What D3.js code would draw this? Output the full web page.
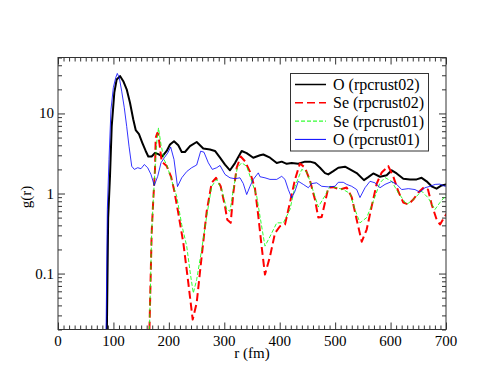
<!DOCTYPE html>
<html><head><meta charset="utf-8">
<script src="https://cdn.jsdelivr.net/npm/d3@7"></script>
</head><body><svg id="c" width="494" height="380" overflow="visible"></svg>
<script>
// ---- data ----
const seriesNames = ["O (rpcrust02)", "Se (rpcrust02)", "Se (rpcrust01)", "O (rpcrust01)"];
const xTicks = [0,100,200,300,400,500,600,700];
const yTicks = [0.1, 1, 10];
const yTickLabels = ["0.1", "1", "10"];

const O02_r = [88,90.5,93.8,96.9,101.6,105.9,111.9,117.8,123.9,129.9,135.8,140.2,146.1,152.1,158.2,162.9,169,175,181,188.2,196.1,202.1,209.3,217,223.2,229.1,238.1,250.2,262.1,274.2,283.2,292.3,301.3,310.3,319.3,331.4,340.4,352.3,364.4,370.4,382.5,394.6,403.6,412.6,421.6,433.5,445.6,454.6,463.6,472.7,481.7,487.6,496.7,505.7,517.8,526.8,538.9,552,559.8,568.8,580.9,593,602,611,623,635,647,656,665,674,683,692,701];
const O02_g = [0.015,0.5,1.65,6.9,18.2,26.6,29.3,25.3,20,13.6,8.4,6.2,5.5,4.3,3.4,2.9,2.9,3.2,3.1,2.9,3.4,4.1,4.5,4.0,3.3,3.3,3.9,4.4,3.65,3.55,3.4,2.8,2.3,1.95,2.4,3.4,3.2,2.8,3.0,3.07,2.8,2.4,2.5,2.35,2.4,2.35,2.5,2.5,2.4,2.1,1.8,1.73,1.9,2.1,2.16,2.0,1.8,1.47,1.6,1.78,1.62,1.69,1.95,1.78,1.53,1.5,1.5,1.57,1.42,1.23,1.15,1.26,1.3];

const Se02_r = [164,169,171.9,175,176.3,179.1,181,187.1,196.1,203.9,209.3,217,226.1,235.1,243,250.2,259.2,268.3,277.3,285,293.5,301.3,305.4,311.6,316.3,322.4,329.6,337.4,346.4,355.4,361.4,368,373.4,382.5,391.5,400.5,409.5,418.5,427.6,436.5,445.6,454.6,463.6,469.6,475.7,481.7,487.6,496.7,508.7,520.8,529.9,538.9,548,556.9,565.9,575,584,595.9,604.9,614,623,632,641,650,660.3,667.5,674.2,683.2,689.2,698.2,701];
const Se02_g = [0.01,0.325,0.84,2.0,4.97,5.7,5.5,2.5,2.2,1.63,1.12,0.57,0.242,0.0765,0.0266,0.043,0.164,0.6,1.36,1.57,1.23,0.69,0.47,0.43,1.02,2.1,2.9,2.53,1.86,1.15,0.52,0.2,0.097,0.164,0.32,0.39,0.41,0.77,1.5,2.37,2.1,1.45,0.84,0.5,0.51,0.77,1.18,1.2,1.12,1.19,0.9,0.47,0.25,0.355,0.69,1.33,1.83,2.2,1.63,1.06,0.77,0.73,0.84,1.03,1.2,1.12,0.73,0.47,0.41,0.52,0.56];

const Se01_r = [164,169,171.9,175,177.7,181.3,185.8,191.2,196.6,205.7,214.1,223.2,232.2,239,244.1,250.2,259.2,268.3,277.3,286.3,295.3,304.4,310.3,316.3,323.5,331.4,340.4,349.5,358.5,364.4,373.4,382.5,394.6,406.5,418.5,427.6,439.7,448.7,457.7,469.6,481.7,490.7,502.8,514.7,526.8,535.8,544.8,556.9,568.8,580.9,590,602,614,629,641,656,668,680,689,701];
const Se01_g = [0.01,0.325,0.84,2.0,4.1,6.6,4.1,2.66,2.24,1.41,0.925,0.41,0.22,0.097,0.057,0.084,0.2,0.52,1.23,1.5,1.12,0.63,0.6,1.12,2.1,2.42,2.19,1.42,0.93,0.52,0.22,0.29,0.43,0.43,0.63,1.23,2.0,1.86,1.23,0.68,0.94,1.23,1.18,1.12,1.0,0.63,0.43,0.5,0.8,1.36,1.58,1.42,1.02,0.73,0.84,1.07,0.88,0.63,0.77,0.97];

const O01_r = [86.6,89,92,95.6,99.8,104.1,107,110.6,114.9,119.6,123.9,128.1,133,137.7,143.8,149.7,155.7,161.8,167.8,173.7,179.9,185.8,191.8,197.9,203.3,209.3,215.6,223.2,232.2,241.2,250.2,257.4,263.4,271.2,278.4,286.3,292.3,301.3,310.3,319.3,328.3,334.3,340.4,346.4,352.3,361.4,364.4,373.4,382.5,394.6,403.6,409.5,415.5,421.6,427.6,433.5,442.5,451.6,457.7,466.7,475.7,487.6,499.7,505.7,514.7,520.8,529.9,538.9,544.8,553.9,562.9,571.9,580.9,590,602,611,620,632,644,653,662,671,680.5,689,698,701];
const O01_g = [0.015,0.63,2.66,11.2,21,27.9,31.6,27.9,19,11.8,6.9,3.9,2.19,2.0,2.1,2.04,2.3,2.1,1.73,1.26,1.64,2.42,2.8,3.2,3.8,2.66,1.22,1.57,1.88,2.1,2.27,3.38,3.28,2.42,2.0,2.1,2.24,1.73,1.57,1.53,1.57,1.33,0.97,1.23,1.5,1.81,1.62,1.57,1.5,1.5,1.64,1.5,1.12,0.88,1.07,1.42,1.3,1.18,1.33,1.36,1.23,1.21,1.23,1.38,1.38,1.3,1.23,1.12,0.89,1.18,1.42,1.36,1.18,1.3,1.41,1.3,1.12,1.15,1.12,1.04,1.18,1.23,1.3,1.31,1.23,1.25];

// ---- font: local alias of Liberation Serif ----
try {
  const ff = new FontFace("ChartSerif", "local('Liberation Serif'), local('LiberationSerif'), local('Liberation Serif Regular')", {display:"swap"});
  document.fonts.add(ff); ff.load().catch(()=>{});
} catch(e) {}
const FONT = '"Liberation Serif"';

// ---- layout ----
const root = d3.select("#c");
const svg = root.append("g").attr("transform","translate(-8,-8)"); // body keeps its default 8px margin
const L = 58, R = 446, T = 57.5, B = 329.5;
const x = d3.scaleLinear().domain([0,700]).range([L,R]);
const y = d3.scaleLog().domain([0.02,50]).range([B,T]);

function addText(parent, str, size){
  const t = parent.append("text").attr("font-size",size).style("font-family",FONT).text(str + " ");
  t.node().getComputedTextLength();
  t.text(str);
  return t;
}

root.append("defs").append("clipPath").attr("id","clip")
  .append("rect").attr("x",L).attr("y",T).attr("width",R-L).attr("height",B-T);

const xMinor = d3.range(0,701,10).filter(v => v % 100 !== 0);
const yMinor = [];
[0.01,0.1,1,10].forEach(d => { for (let k=2;k<=9;k++){ const v=+(d*k).toPrecision(3); if (v>=0.02 && v<=50) yMinor.push(v);} });

function styleAxis(g){ g.select(".domain").remove(); g.selectAll("line").attr("stroke","#333"); g.selectAll("text").remove(); }

// tick marks (all four sides)
[[d3.axisBottom(x),B],[d3.axisTop(x),T]].forEach(([ax,pos])=>{
  svg.append("g").attr("transform",`translate(0,${pos})`).call(ax.tickValues(xTicks).tickSize(-7)).call(styleAxis);
  svg.append("g").attr("transform",`translate(0,${pos})`).call(ax.tickValues(xMinor).tickSize(-4)).call(styleAxis);
});
[[d3.axisLeft(y),L],[d3.axisRight(y),R]].forEach(([ax,pos])=>{
  svg.append("g").attr("transform",`translate(${pos},0)`).call(ax.tickValues(yTicks).tickSize(-7)).call(styleAxis);
  svg.append("g").attr("transform",`translate(${pos},0)`).call(ax.tickValues(yMinor).tickSize(-4)).call(styleAxis);
});

// tick labels
xTicks.forEach(v => addText(svg, String(v), 15).attr("x", x(v)).attr("y", 346).attr("text-anchor","middle"));
yTicks.forEach((v,i) => addText(svg, yTickLabels[i], 15).attr("x", L-4).attr("y", y(v)+5).attr("text-anchor","end"));

const styles = [
  {r:O02_r, g:O02_g, color:"#000000", w:2, dash:null},
  {r:Se02_r, g:Se02_g, color:"#ff0000", w:2, dash:"8,4"},
  {r:Se01_r, g:Se01_g, color:"#00ff00", w:1, dash:"4,2"},
  {r:O01_r, g:O01_g, color:"#0000ff", w:1, dash:null}
];
const line = d3.line().x(d=>x(d[0])).y(d=>y(d[1]));
const plot = svg.append("g").attr("clip-path","url(#clip)");
styles.forEach(s => {
  plot.append("path").datum(s.r.map((v,i)=>[v,s.g[i]]))
    .attr("d",line).attr("fill","none").attr("stroke",s.color)
    .attr("stroke-width",s.w).attr("stroke-dasharray",s.dash)
    .attr("stroke-linejoin","round").attr("stroke-opacity", s.w===1?0.8:1);
});

// frame
svg.append("rect").attr("x",L).attr("y",T).attr("width",R-L).attr("height",B-T)
  .attr("fill","none").attr("stroke","#333").attr("stroke-width",1);

// axis titles
addText(svg, "r (fm)", 15).attr("x",(L+R)/2).attr("y",358).attr("text-anchor","middle");
addText(svg, "g(r)", 15).attr("transform","translate(31,197) rotate(-90)").attr("text-anchor","middle");

// legend
svg.append("rect").attr("x",290.5).attr("y",73.5).attr("width",138).attr("height",77.5).attr("fill","#fff").attr("stroke","#333").attr("stroke-width",1);
styles.forEach((s,i) => {
  const yy = 84.5 + i*18.3;
  svg.append("line").attr("x1",295).attr("x2",326).attr("y1",yy).attr("y2",yy)
    .attr("stroke",s.color).attr("stroke-width",s.w===2?1.5:1).attr("stroke-dasharray",s.dash);
  addText(svg, seriesNames[i], 16).attr("x",333).attr("y",yy+5.5);
});
</script></body></html>
